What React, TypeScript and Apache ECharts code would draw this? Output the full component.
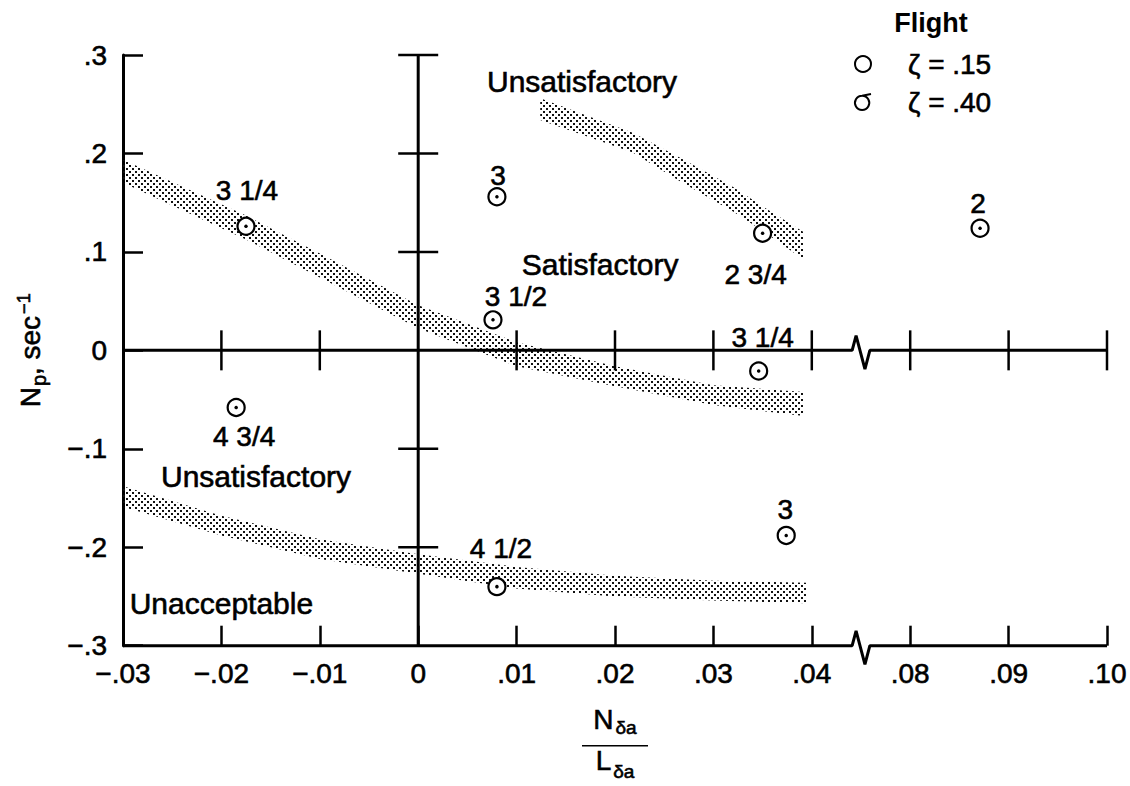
import React, { useEffect, useRef } from 'react';
import * as echarts from 'echarts';

// ---------- tick labels ----------
const xTickLabels = ['−.03', '−.02', '−.01', '0', '.01', '.02', '.03', '.04', '.08', '.09', '.10'];
const yTickLabels = ['−.3', '−.2', '−.1', '0', '.1', '.2', '.3'];

// ---------- flight data (zeta = .15) ----------
const flightX = [-0.0175, -0.0185, 0.008, 0.0076, 0.035, 0.0346, 0.008, 0.0374, 0.0871];
const flightY = [0.126, -0.058, 0.156, 0.031, 0.119, -0.021, -0.24, -0.188, 0.124];
const flightRating = ['3 1/4', '4 3/4', '3', '3 1/2', '2 3/4', '3 1/4', '4 1/2', '3', '2'];
const ratingOffset = [[1, -36], [8, 29], [1, -21], [23, -23], [-7, 41], [4, -34], [4, -38], [-1, -26], [-2, -25]];

// ---------- boundary bands ----------
const bandSatX = [-0.03, -0.0175, -0.01, 0, 0.01, 0.02, 0.03, 0.0392];
const bandSatTop = [0.1936, 0.1369, 0.0984, 0.0457, 0.0082, -0.0161, -0.0354, -0.0424];
const bandSatBottom = [0.1703, 0.1126, 0.0741, 0.0224, -0.0161, -0.0364, -0.0556, -0.0668];

const bandUpperX = [0.0124, 0.0218, 0.0269, 0.032, 0.0355, 0.0392];
const bandUpperTop = [0.256, 0.221, 0.194, 0.166, 0.143, 0.12];
const bandUpperBottom = [0.234, 0.201, 0.17, 0.141, 0.118, 0.092];

const bandLowX = [-0.03, -0.02, -0.01, 0, 0.01, 0.02, 0.03, 0.0395];
const bandLowTop = [-0.138, -0.168, -0.192, -0.207, -0.22, -0.229, -0.234, -0.236];
const bandLowBottom = [-0.159, -0.188, -0.212, -0.227, -0.242, -0.25, -0.254, -0.257];

// ---------- region annotations ----------
const regionText = ['Unsatisfactory', 'Satisfactory', 'Unsatisfactory', 'Unacceptable'];
const regionX = [0.01665, 0.01848, -0.01648, -0.02];
const regionY = [0.2726, 0.0876, -0.1282, -0.2568];

// ---------- axis break (plotted units) ----------
const breakZigX = [0.0441, 0.0445, 0.0454, 0.0459];
const breakZigDY = [0, 0.015, -0.019, 0];

const X_MIN = -0.03;
const X_MAX = 0.07;
const X_STEP = 0.01;
const Y_MIN = -0.3;
const Y_MAX = 0.3;
const Y_STEP = 0.1;
const BREAK_SHIFT = 0.03; // .04 -> .08 gap collapsed to one interval

const toAxisX = (x: number) => (x > 0.06 ? x - BREAK_SHIFT : x);

const FONT = '"Liberation Sans", Arial, sans-serif';
const INK = '#000';
const BOLDEN = { textBorderColor: INK, textBorderWidth: 0.6 };

function makeStipple(): HTMLCanvasElement {
  const c = document.createElement('canvas');
  c.width = 6;
  c.height = 6;
  const g = c.getContext('2d')!;
  g.fillStyle = '#111';
  g.fillRect(0, 0, 2, 2);
  g.fillRect(3, 3, 2, 2);
  return c;
}

export default function App() {
  const ref = useRef<HTMLDivElement>(null);

  useEffect(() => {
    if (!ref.current) return;
    const chart = echarts.init(ref.current, null, { renderer: 'svg' });
    const stipple = makeStipple();

    const bandSeries = (xs: number[], tops: number[], bottoms: number[]) => ({
      type: 'custom',
      coordinateSystem: 'cartesian2d',
      silent: true,
      z: 1,
      data: [[xs[0], tops[0]]],
      encode: { x: 0, y: 1 },
      renderItem: (_p: any, api: any) => {
        const pts: number[][] = [];
        for (let i = 0; i < xs.length; i++) pts.push(api.coord([toAxisX(xs[i]), tops[i]]));
        for (let i = xs.length - 1; i >= 0; i--) pts.push(api.coord([toAxisX(xs[i]), bottoms[i]]));
        return {
          type: 'polygon',
          shape: { points: pts },
          style: {
            fill: { image: stipple, repeat: 'repeat', imageWidth: 6, imageHeight: 6 },
            stroke: null,
          },
        };
      },
    });

    const xTickValues = xTickLabels.map((_, i) => X_MIN + i * X_STEP);
    const yTickValues = yTickLabels.map((_, i) => Y_MIN + i * Y_STEP);

    const zeroXTicks = xTickValues
      .filter((v) => Math.abs(v) > 1e-9 && Math.abs(v - X_MIN) > 1e-9)
      .map((v) => [v, 0]);
    const zeroYTicks = yTickValues
      .filter((v) => Math.abs(v) > 1e-9 && Math.abs(v - Y_MIN) > 1e-9)
      .map((v) => [0, v]);

    const crossTicks = (vals: number[][], vertical: boolean) => ({
      type: 'custom',
      coordinateSystem: 'cartesian2d',
      silent: true,
      clip: false,
      z: 4,
      data: vals,
      encode: { x: 0, y: 1 },
      renderItem: (_p: any, api: any) => {
        const c = api.coord([api.value(0), api.value(1)]);
        const shape = vertical
          ? { x1: c[0], y1: c[1] - 20, x2: c[0], y2: c[1] + 20 }
          : { x1: c[0] - 20, y1: c[1], x2: c[0] + 20, y2: c[1] };
        return { type: 'line', shape, style: { stroke: INK, lineWidth: 2.5 } };
      },
    });

    const brokenLine = (y: number) => [
      [X_MIN, y],
      ...breakZigX.map((x, i) => [x, y + breakZigDY[i]]),
      [X_MAX, y],
    ];

    const lineSeries = (data: number[][]) => ({
      type: 'line',
      data,
      symbol: 'none',
      silent: true,
      clip: false,
      z: 3,
      lineStyle: { color: INK, width: 3 },
    });

    const points = flightX.map((x, i) => ({
      value: [toAxisX(x), flightY[i]],
      label: { offset: ratingOffset[i] },
    }));

    const flagPath = 'path://M10,4 A8,8 0 1,0 10.01,4 Z M10,4 L20,2';

    const labelText = {
      fontFamily: FONT,
      color: INK,
      opacity: 1,
      ...BOLDEN,
    };

    chart.setOption({
      animation: false,
      backgroundColor: '#fff',
      textStyle: { fontFamily: FONT, color: INK },
      grid: { left: 123, top: 55, width: 984, height: 593 },
      legend: {
        data: [
          { name: 'ζ = .15', icon: 'circle' },
          { name: 'ζ = .40', icon: flagPath },
        ],
        orient: 'vertical',
        left: 849,
        top: 44,
        itemWidth: 80,
        itemHeight: 16,
        itemGap: 8,
        selectedMode: false,
        itemStyle: { opacity: 1 },
        textStyle: { fontFamily: FONT, fontSize: 28, color: INK, lineHeight: 30, ...BOLDEN },
      },
      graphic: [
        {
          type: 'text',
          x: 931,
          y: 23,
          style: {
            text: 'Flight',
            fontFamily: FONT,
            fontSize: 27,
            fontWeight: 'bold',
            fill: INK,
            align: 'center',
            verticalAlign: 'middle',
          },
        },
      ],
      xAxis: {
        type: 'value',
        min: X_MIN,
        max: X_MAX,
        interval: X_STEP,
        axisLine: { show: false, onZero: false },
        axisTick: { show: true, inside: true, length: 20, lineStyle: { color: INK, width: 2.5 } },
        splitLine: { show: false },
        axisLabel: {
          margin: 14,
          fontFamily: FONT,
          fontSize: 28,
          color: INK,
          ...BOLDEN,
          formatter: (v: number) => xTickLabels[Math.round((v - X_MIN) / X_STEP)] ?? '',
        },
        name: '{n1|N}{s1|δa}\n{bar|}\n{n3|L}{s3|δa}',
        nameLocation: 'middle',
        nameGap: 60,
        nameTextStyle: {
          fontFamily: FONT,
          color: INK,
          rich: {
            n1: { fontSize: 28, lineHeight: 40, verticalAlign: 'top', padding: [0, 0, 0, 0], fontFamily: FONT, color: INK, ...BOLDEN },
            s1: { fontSize: 19, lineHeight: 40, verticalAlign: 'top', padding: [12, 0, 0, 2], fontFamily: FONT, color: INK, ...BOLDEN },
            bar: { width: 66, height: 0, borderColor: INK, borderWidth: 1.5 },
            n3: { fontSize: 28, lineHeight: 30, verticalAlign: 'top', padding: [1, 0, 0, 0], fontFamily: FONT, color: INK, ...BOLDEN },
            s3: { fontSize: 19, lineHeight: 30, verticalAlign: 'top', padding: [16, 0, 0, 2], fontFamily: FONT, color: INK, ...BOLDEN },
          },
        },
      },
      yAxis: {
        type: 'value',
        min: Y_MIN,
        max: Y_MAX,
        interval: Y_STEP,
        axisLine: { show: true, onZero: false, lineStyle: { color: INK, width: 3 } },
        axisTick: { show: true, inside: true, length: 20, lineStyle: { color: INK, width: 2.5 } },
        splitLine: { show: false },
        axisLabel: {
          margin: 16,
          fontFamily: FONT,
          fontSize: 28,
          color: INK,
          ...BOLDEN,
          formatter: (v: number) => yTickLabels[Math.round((v - Y_MIN) / Y_STEP)] ?? '',
        },
        name: '{n|N}{sub|p}{n|, sec}{sup|−1}',
        nameLocation: 'middle',
        nameRotate: 90,
        nameGap: 78,
        nameTextStyle: {
          fontFamily: FONT,
          color: INK,
          rich: {
            n: { fontSize: 28, lineHeight: 30, fontFamily: FONT, color: INK, ...BOLDEN },
            sub: { fontSize: 20, lineHeight: 20, verticalAlign: 'top', padding: [14, 0, 0, 1], fontFamily: FONT, color: INK, ...BOLDEN },
            sup: { fontSize: 18, lineHeight: 18, verticalAlign: 'top', padding: [0, 0, 0, 2], fontFamily: FONT, color: INK, ...BOLDEN },
          },
        },
      },
      series: [
        bandSeries(bandSatX, bandSatTop, bandSatBottom),
        bandSeries(bandUpperX, bandUpperTop, bandUpperBottom),
        bandSeries(bandLowX, bandLowTop, bandLowBottom),
        lineSeries(brokenLine(0)),
        lineSeries(brokenLine(Y_MIN)),
        lineSeries([[0, Y_MIN], [0, Y_MAX]]),
        crossTicks(zeroXTicks, true),
        crossTicks(zeroYTicks, false),
        {
          type: 'scatter',
          name: 'regions',
          silent: true,
          z: 5,
          symbolSize: 0,
          itemStyle: { opacity: 1 },
          data: regionText.map((t, i) => ({ name: t, value: [regionX[i], regionY[i]] })),
          label: {
            show: true,
            position: 'inside',
            formatter: (p: any) => p.name,
            fontSize: 30,
            ...labelText,
          },
        },
        {
          type: 'scatter',
          name: 'ζ = .15',
          z: 6,
          symbol: 'circle',
          symbolSize: 17,
          itemStyle: { color: '#fff', borderColor: INK, borderWidth: 2.2, opacity: 1 },
          data: points,
          label: {
            show: true,
            position: 'inside',
            formatter: (p: any) => flightRating[p.dataIndex],
            fontSize: 28,
            ...labelText,
          },
        },
        {
          type: 'scatter',
          name: 'dot',
          z: 7,
          silent: true,
          symbol: 'circle',
          symbolSize: 3.5,
          itemStyle: { color: INK, opacity: 1 },
          data: flightX.map((x, i) => [toAxisX(x), flightY[i]]),
        },
        {
          type: 'scatter',
          name: 'ζ = .40',
          z: 6,
          symbol: flagPath,
          symbolSize: 17,
          itemStyle: { color: '#fff', borderColor: INK, borderWidth: 2.2, opacity: 1 },
          data: [],
        },
      ],
    });

    return () => chart.dispose();
  }, []);

  return (
    <div
      ref={ref}
      style={{ position: 'fixed', left: 0, top: 0, width: 1130, height: 786, background: '#fff' }}
    />
  );
}
